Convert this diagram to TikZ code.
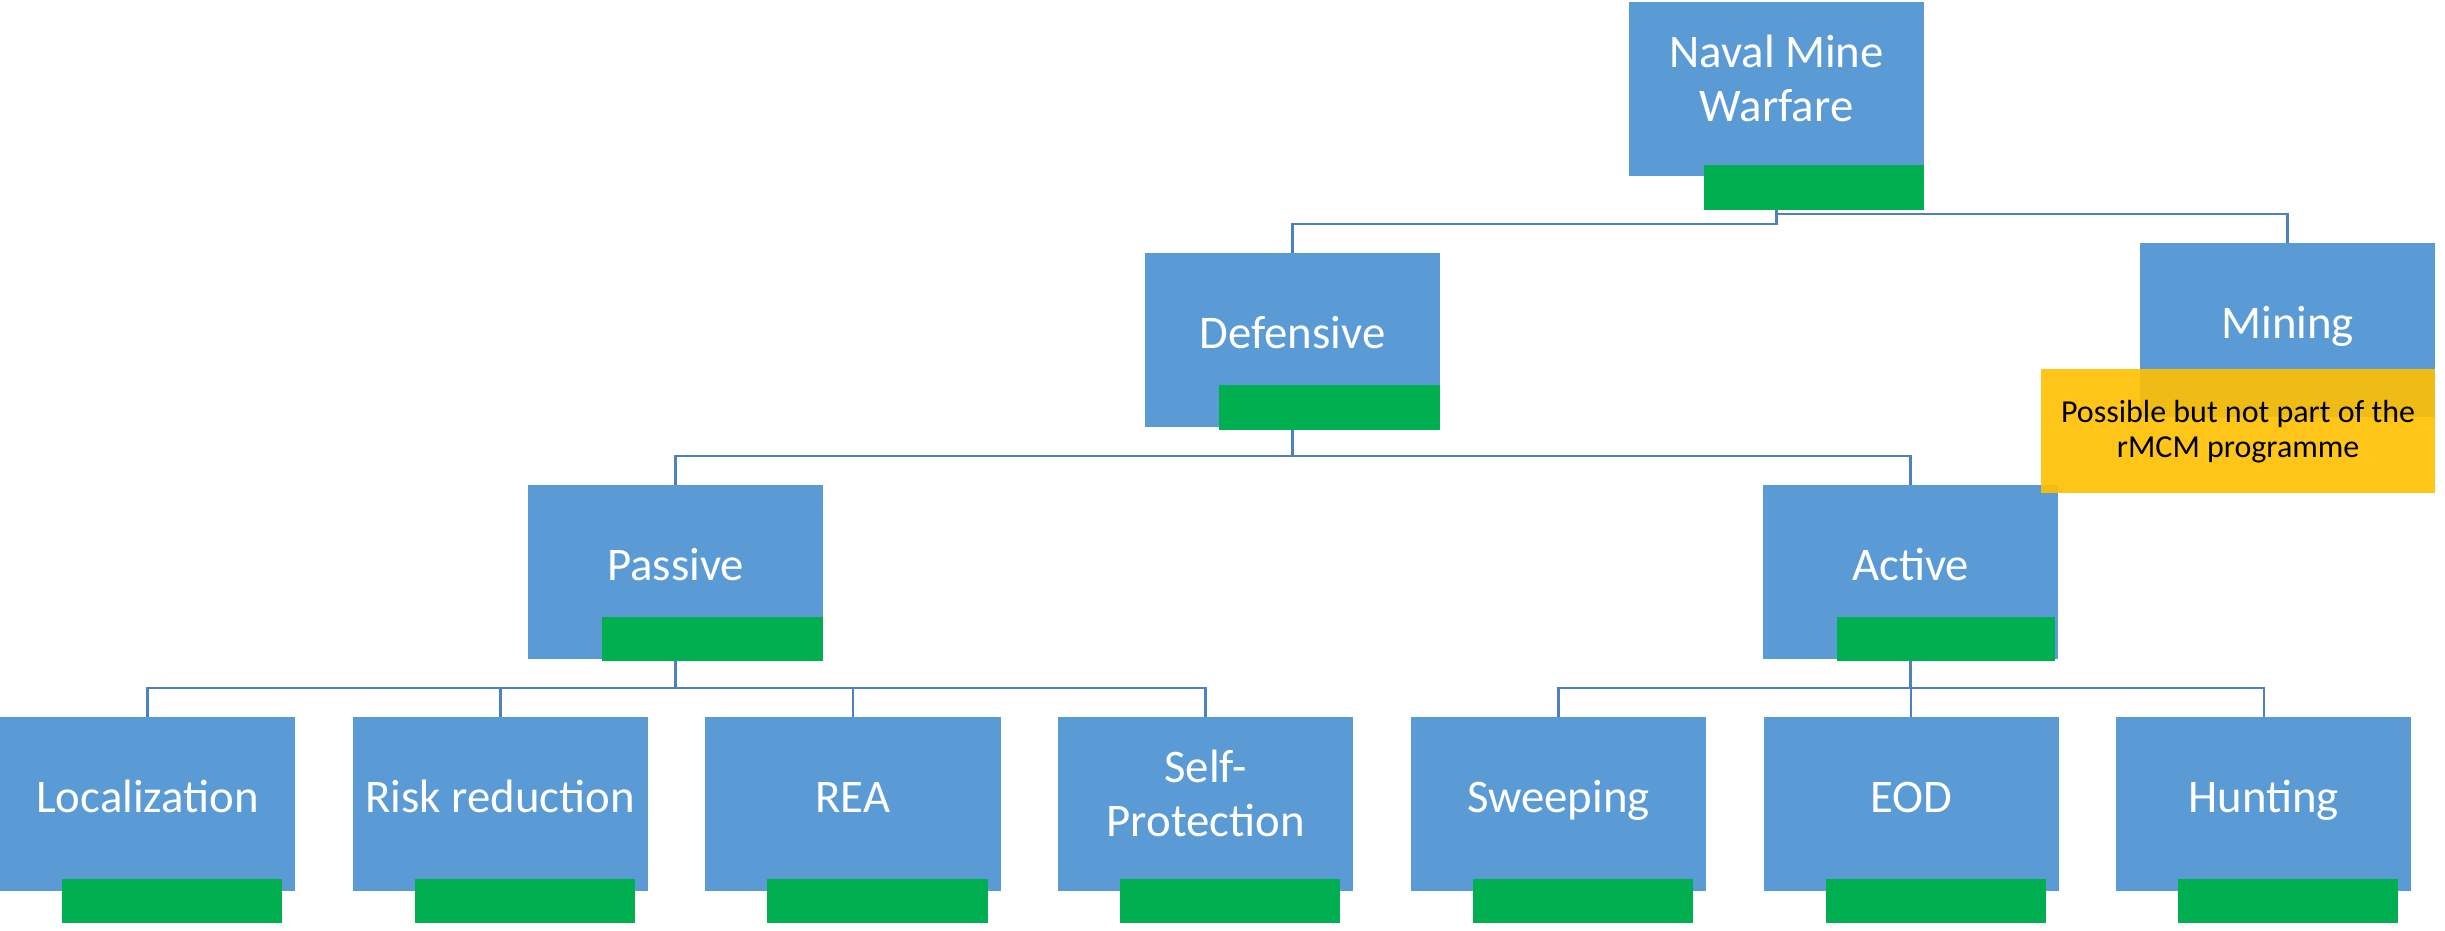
\documentclass[tikz,border=0pt]{standalone}
\usepackage{fontspec}
\setmainfont{Carlito}
\definecolor{boxblue}{HTML}{5B9BD5}
\definecolor{bargreen}{HTML}{00B050}
\definecolor{noteyellow}{HTML}{FFC000}
\definecolor{linkblue}{HTML}{4F81BD}
\tikzset{
  unitbox/.style={fill=boxblue, draw=none, anchor=north west, minimum width=2.95cm,
    minimum height=1.74cm, inner sep=0pt, outer sep=0pt},
  greenbar/.style={fill=bargreen, draw=none, anchor=north east, minimum width=2.2cm,
    minimum height=0.44cm, inner sep=0pt, outer sep=0pt},
  boxtext/.style={text=white, font=\fontsize{13.3}{15.4}\selectfont, align=center,
    inner sep=0pt, yshift=0.025cm,
    execute at begin node=\strut, execute at end node=\strut},
  notebox/.style={fill=noteyellow, fill opacity=0.9, draw=none, anchor=north west,
    minimum width=3.94cm, minimum height=1.24cm, inner sep=0pt, outer sep=0pt},
  notetext/.style={text=black, font=\fontsize{9.1}{10}\selectfont, align=center, inner sep=0pt,
    execute at begin node=\strut, execute at end node=\strut},
  link/.style={draw=linkblue, line width=0.7pt},
}
\begin{document}
\begin{tikzpicture}[x=0.01cm, y=-0.01cm]
\useasboundingbox (0,0) rectangle (2445,930);

% unit boxes
\node[unitbox] (naval)   at (1629,2)   {};
\node[unitbox] (def)     at (1145,253) {};
\node[unitbox] (mining)  at (2140,243) {};
\node[unitbox] (passive) at (528,485)  {};
\node[unitbox] (active)  at (1763,485) {};
\node[unitbox] (loc)     at (0,717)    {};
\node[unitbox] (risk)    at (352.7,717) {};
\node[unitbox] (rea)     at (705.4,717) {};
\node[unitbox] (selfp)   at (1058.1,717) {};
\node[unitbox] (sweep)   at (1410.8,717) {};
\node[unitbox] (eod)     at (1763.5,717) {};
\node[unitbox] (hunt)    at (2116.2,717) {};

% elbow connectors
\draw[link] (naval.south) -- ++(0,48) -| (def.north);
\draw[link] (naval.south) -- ++(0,38) -| (mining.north);
\draw[link] (def.south) -- ++(0,29) -| (passive.north);
\draw[link] (def.south) -- ++(0,29) -| (active.north);
\foreach \c in {loc,risk,rea,selfp}
  \draw[link] (passive.south) -- ++(0,29) -| (\c.north);
\foreach \c in {sweep,eod,hunt}
  \draw[link] (active.south) -- ++(0,29) -| (\c.north);

% green status bars
\node[greenbar, minimum height=0.45cm] (navalbar) at (1924,165) {};
\node[greenbar, minimum height=0.45cm, minimum width=2.21cm] (defbar) at (1440,385) {};
\node[greenbar, minimum width=2.21cm] (passivebar) at (823,617) {};
\node[greenbar, minimum width=2.18cm] (activebar) at (2055,617) {};
\foreach \c in {loc,risk,rea,selfp,sweep,eod,hunt}
  \node[greenbar] (\c bar) at ([xshift=-0.13cm,yshift=0.12cm]\c.south east) {};

% labels
\node[boxtext] (navaltxt)   at (naval.center)   {Naval Mine\\Warfare};
\node[boxtext] (deftxt)     at (def.center)     {Defensive};
\node[boxtext] (miningtxt)  at (mining.center)  {Mining};
\node[boxtext] (passivetxt) at (passive.center) {Passive};
\node[boxtext] (activetxt)  at (active.center)  {Active};
\node[boxtext] (loctxt)     at (loc.center)     {Localization};
\node[boxtext] (risktxt)    at (risk.center)    {Risk reduction};
\node[boxtext] (reatxt)     at (rea.center)     {REA};
\node[boxtext] (selfptxt)   at (selfp.center)   {Self-\\Protection};
\node[boxtext] (sweeptxt)   at (sweep.center)   {Sweeping};
\node[boxtext] (eodtxt)     at (eod.center)     {EOD};
\node[boxtext] (hunttxt)    at (hunt.center)    {Hunting};

% programme note over the mining box
\node[notebox] (note) at (2041,369) {};
\node[notetext] (notetxt) at ([yshift=-0.03cm]note.center) {Possible but not part of the\\rMCM programme};
\end{tikzpicture}
\end{document}
